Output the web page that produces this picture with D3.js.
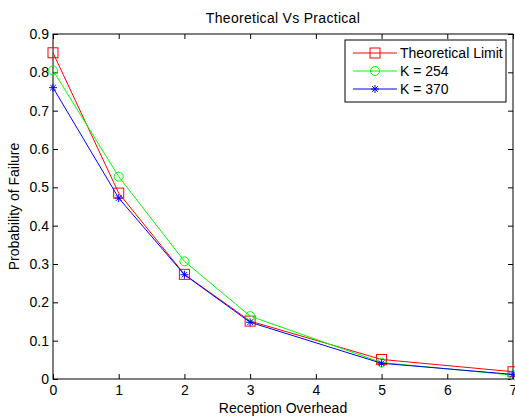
<!DOCTYPE html>
<html>
<head>
<meta charset="utf-8">
<script src="https://cdn.jsdelivr.net/npm/d3@7"></script>
<style>
  body { margin: 0; background: #fff; }
  svg text { font-family: Arial, "Liberation Sans", sans-serif; fill: #000; }
</style>
</head>
<body>
<div id="chart"></div>
<script>
const xTicks = [0, 1, 2, 3, 4, 5, 6, 7];
const yTicks = [0, 0.1, 0.2, 0.3, 0.4, 0.5, 0.6, 0.7, 0.8, 0.9];
const overhead = [0, 1, 2, 3, 5, 7];
const theoretical = [0.851, 0.485, 0.273, 0.151, 0.051, 0.019];
const k254 = [0.805, 0.528, 0.307, 0.164, 0.043, 0.010];
const k370 = [0.760, 0.472, 0.272, 0.148, 0.041, 0.012];

const series = [
  { name: "Theoretical Limit", values: theoretical, color: "#ff0000", marker: "square" },
  { name: "K = 254", values: k254, color: "#00ff00", marker: "circle" },
  { name: "K = 370", values: k370, color: "#0000ff", marker: "star" }
];

const W = 515, H = 416;
const m = { top: 34, right: 2, bottom: 37, left: 53 };
const FS = 14;

const svg = d3.select("#chart").append("svg")
  .attr("width", W)
  .attr("height", H);

const x = d3.scaleLinear().domain([0, 7]).range([m.left, W - m.right]);
const y = d3.scaleLinear().domain([0, 0.9]).range([H - m.bottom, m.top]);

// axes box with inward ticks
const tick = 5;
svg.append("g")
  .attr("transform", `translate(0,${y(0)})`)
  .call(d3.axisBottom(x).tickValues(xTicks).tickSizeInner(-tick).tickSizeOuter(0).tickPadding(6).tickFormat(d3.format("d")))
  .call(g => g.select(".domain").remove());
svg.append("g")
  .attr("transform", `translate(0,${y(0.9)})`)
  .call(d3.axisTop(x).tickValues(xTicks).tickSizeInner(-tick).tickSizeOuter(0).tickFormat(""))
  .call(g => g.select(".domain").remove());
svg.append("g")
  .attr("transform", `translate(${x(0)},0)`)
  .call(d3.axisLeft(y).tickValues(yTicks).tickSizeInner(-tick).tickSizeOuter(0).tickPadding(4).tickFormat(d => d === 0 ? "0" : d3.format(".1f")(d)))
  .call(g => g.select(".domain").remove());
svg.append("g")
  .attr("transform", `translate(${x(7)},0)`)
  .call(d3.axisRight(y).tickValues(yTicks).tickSizeInner(-tick).tickSizeOuter(0).tickFormat(""))
  .call(g => g.select(".domain").remove());

svg.selectAll(".tick text").attr("font-size", FS).attr("font-family", "Arial, 'Liberation Sans', sans-serif");
svg.selectAll(".tick line").attr("stroke", "#000");

svg.append("rect")
  .attr("x", x(0)).attr("y", y(0.9))
  .attr("width", x(7) - x(0)).attr("height", y(0) - y(0.9))
  .attr("fill", "none").attr("stroke", "#000").attr("stroke-width", 1);

// titles
svg.append("text")
  .attr("x", (x(0) + x(7)) / 2).attr("y", 23)
  .attr("text-anchor", "middle").attr("font-size", 14)
  .attr("letter-spacing", 0.3)
  .text("Theoretical Vs Practical");
svg.append("text")
  .attr("x", (x(0) + x(7)) / 2).attr("y", 413)
  .attr("text-anchor", "middle").attr("font-size", FS)
  .text("Reception Overhead");
svg.append("text")
  .attr("transform", `translate(19,${(y(0) + y(0.9)) / 2}) rotate(-90)`)
  .attr("text-anchor", "middle").attr("font-size", FS)
  .text("Probability of Failure");

function drawMarker(g, type, color) {
  if (type === "square") {
    g.append("rect").attr("x", -5).attr("y", -5).attr("width", 10).attr("height", 10)
      .attr("fill", "none").attr("stroke", color).attr("stroke-width", 1);
  } else if (type === "circle") {
    g.append("circle").attr("r", 4.5)
      .attr("fill", "none").attr("stroke", color).attr("stroke-width", 1);
  } else {
    const r = 4;
    [[-r, 0, r, 0], [0, -r, 0, r], [-r * 0.7, -r * 0.7, r * 0.7, r * 0.7], [-r * 0.7, r * 0.7, r * 0.7, -r * 0.7]]
      .forEach(l => g.append("line")
        .attr("x1", l[0]).attr("y1", l[1]).attr("x2", l[2]).attr("y2", l[3])
        .attr("stroke", color).attr("stroke-width", 1));
  }
}

const line = d3.line().x((d, i) => x(overhead[i])).y(d => y(d));

series.forEach(s => {
  svg.append("path")
    .attr("d", line(s.values))
    .attr("fill", "none")
    .attr("stroke", s.color)
    .attr("stroke-width", 1);
  s.values.forEach((v, i) => {
    const g = svg.append("g").attr("transform", `translate(${x(overhead[i])},${y(v)})`);
    drawMarker(g, s.marker, s.color);
  });
});

// legend
const leg = svg.append("g");
leg.append("rect")
  .attr("x", 345).attr("y", 40).attr("width", 161).attr("height", 62)
  .attr("fill", "#fff").attr("stroke", "#000").attr("stroke-width", 1);
series.forEach((s, i) => {
  const ly = 53 + i * 18;
  leg.append("line")
    .attr("x1", 353).attr("x2", 397).attr("y1", ly).attr("y2", ly)
    .attr("stroke", s.color).attr("stroke-width", 1);
  drawMarker(leg.append("g").attr("transform", `translate(375,${ly})`), s.marker, s.color);
  leg.append("text")
    .attr("x", 400).attr("y", ly)
    .attr("dominant-baseline", "central")
    .attr("font-size", FS)
    .text(s.name);
});
</script>
</body>
</html>
